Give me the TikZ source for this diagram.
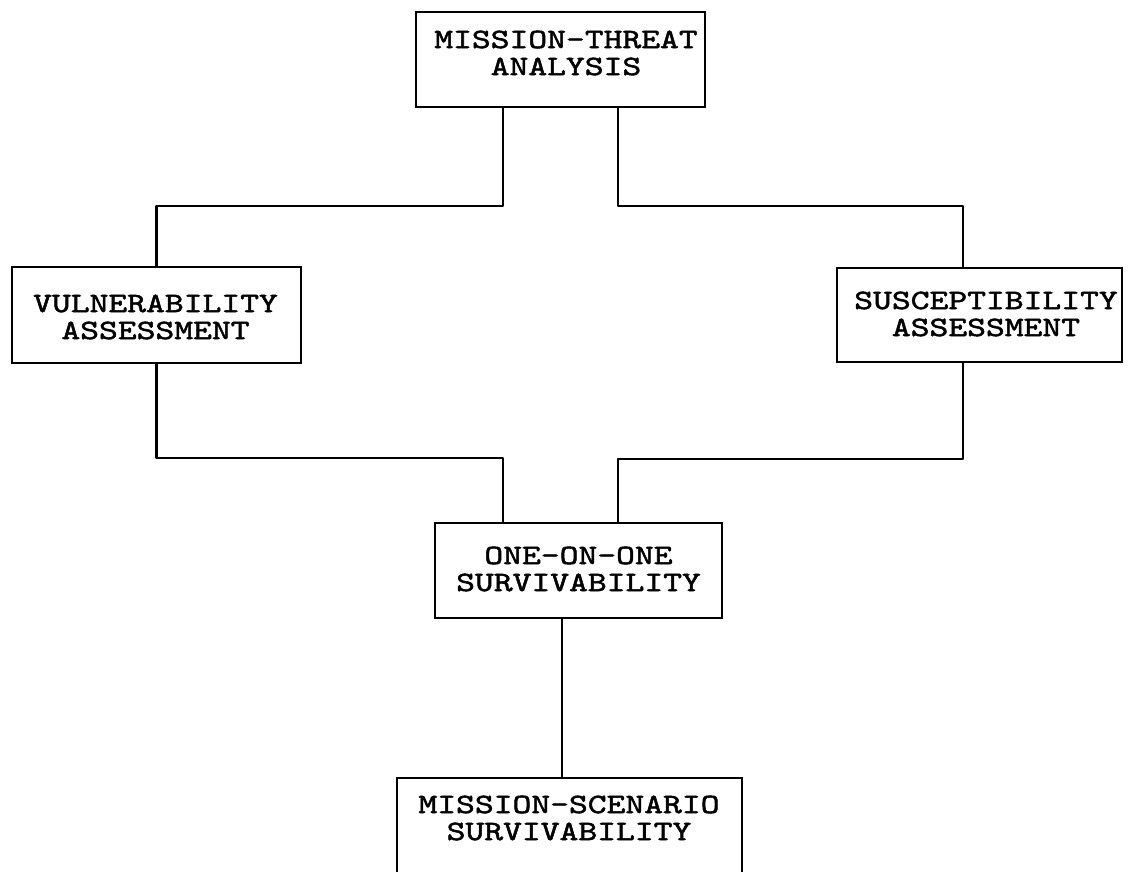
\documentclass[tikz,border=0pt]{standalone}
\usepackage{fontspec}
\newfontfamily\typer[FakeStretch=1.28,FakeBold=1.8]{lmmono10-regular.otf}
\begin{document}
\begin{tikzpicture}[x=1pt,y=-1pt,
  box/.style={draw, line width=2.2pt, inner sep=0pt},
  lbl/.style={font=\typer\fontsize{28}{27}\selectfont, align=center, inner sep=0pt},
  wire/.style={line width=2.2pt, line join=round}]
\useasboundingbox (0,0) rectangle (1128,872);
\clip (0,0) rectangle (1128,872);

% boxes
\node[box, minimum width=289pt, minimum height=95pt] (top)  at (560.5,59.5) {};
\node[box, minimum width=289pt, minimum height=96pt] (vuln) at (156.5,315) {};
\node[box, minimum width=285pt, minimum height=94pt] (susc) at (979.5,315) {};
\node[box, minimum width=287pt, minimum height=95pt] (one)  at (578.5,570.5) {};
\node[box, minimum width=345pt, minimum height=100pt] (scen) at (569.5,828) {};

% labels
\node[lbl] (topt)  at (566,53)      {MISSION-THREAT\\ANALYSIS};
\node[lbl] (vulnt) at (155.5,317)   {VULNERABILITY\\ASSESSMENT};
\node[lbl] (susct) at (986,314)     {SUSCEPTIBILITY\\ASSESSMENT};
\node[lbl] (onet)  at (578.5,569)   {ONE-ON-ONE\\SURVIVABILITY};
\node[lbl] (scent) at (569,818)     {MISSION-SCENARIO\\SURVIVABILITY};

% connectors
\draw[wire] ([xshift=-57.5pt]top.south) -- ++(0,98) -| (vuln.north);
\draw[wire] ([xshift=57.5pt]top.south) -- ++(0,98) -| ([xshift=-16.5pt]susc.north);
\draw[wire] (vuln.south) -- ++(0,94) -| ([xshift=-75.5pt]one.north);
\draw[wire] ([xshift=-16.5pt]susc.south) -- ++(0,96) -| ([xshift=39.5pt]one.north);
\coordinate (drop) at ([xshift=-16.5pt]one.south);
\draw[wire] (drop) -- (drop |- scen.north);
\end{tikzpicture}
\end{document}
